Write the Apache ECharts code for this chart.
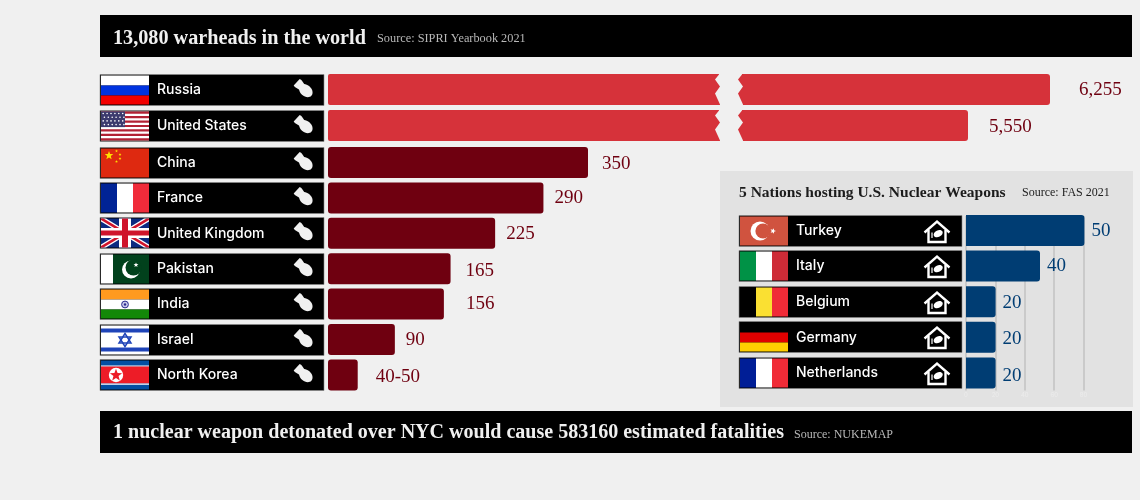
<!DOCTYPE html>
<html><head><meta charset="utf-8">
<style>html,body{margin:0;padding:0;background:#f0f0f0}#c{width:1140px;height:500px}</style>
<script src="https://cdn.jsdelivr.net/npm/echarts@6/dist/echarts.min.js"></script>
</head><body><div id="c"></div>
<script>
// ---------- data ----------
const brokenCountries = ['Russia', 'United States'];
const brokenValues = [6255, 5550];
const brokenLabels = ['6,255', '5,550'];
const countries = ['China', 'France', 'United Kingdom', 'Pakistan', 'India', 'Israel', 'North Korea'];
const warheads = [350, 290, 225, 165, 156, 90, 40];
const warheadLabels = ['350', '290', '225', '165', '156', '90', '40-50'];
const hostCountries = ['Turkey', 'Italy', 'Belgium', 'Germany', 'Netherlands'];
const hostBars = [80, 50, 20, 20, 20];
const hostLabels = ['50', '40', '20', '20', '20'];
const hostTicks = [0, 20, 40, 60, 80];

// ---------- look ----------
const SERIF = '"Liberation Serif", serif';
const SANS = 'Inter, Lato, sans-serif';
const RED = '#d6323a', DARK = '#6f0010', BLUE = '#003d73', BG = '#f0f0f0';
const gapsBroken = [29, 21], shiftBroken = [1, 2];
const gapsMain = [14, 11, 11, 15, 22, 11, 18], shiftMain = [2, 0, 1, 2, 0, 1, 2];
const gapsHost = [7, 7, 7, 7, 7], shiftHost = [1, 0, 1, 2, 3];

// ---------- drawing helpers ----------
const R = (x, y, w, h, fill) => ({ type: 'rect', shape: { x, y, width: w, height: h }, style: { fill } });
const P = (points, fill) => ({ type: 'polygon', shape: { points }, style: { fill } });
const C = (cx, cy, r, fill) => ({ type: 'circle', shape: { cx, cy, r }, style: { fill } });
function star(cx, cy, r, fill, rot) {
  const pts = [];
  for (let i = 0; i < 10; i++) {
    const a = -Math.PI / 2 + (rot || 0) + i * Math.PI / 5, q = i % 2 ? r * 0.42 : r;
    pts.push([cx + q * Math.cos(a), cy + q * Math.sin(a)]);
  }
  return P(pts, fill);
}
const W = 48, H = 29;
function vertical(a, b, c) { return [R(0, 0, 16, H, a), R(16, 0, 16, H, b), R(32, 0, 16, H, c)]; }
function horizontal(a, b, c) { return [R(0, 0, W, 10, a), R(0, 10, W, 10, b), R(0, 20, W, 9, c)]; }
const flags = {
  'Russia': () => horizontal('#ffffff', '#0033e0', '#f20000'),
  'United States': () => {
    const o = [R(0, 0, W, H, '#ffffff')];
    for (let i = 0; i < 7; i++) o.push(R(0, i * 4.46, W, 2.23, '#b22234'));
    o.push(R(0, 0, 24, 15.6, '#3c3b6e'));
    for (let r = 0; r < 4; r++) for (let k = 0; k < 6; k++) o.push(C(2.2 + k * 3.9 + (r % 2) * 1.2, 2 + r * 3.7, 0.8, '#ffffff'));
    return o;
  },
  'China': () => [R(0, 0, W, H, '#de2910'), star(8, 7, 4.5, '#ffde00'), star(15.5, 2.5, 1.5, '#ffde00'), star(19, 6, 1.5, '#ffde00'), star(19, 10, 1.5, '#ffde00'), star(15.5, 13, 1.5, '#ffde00')],
  'France': () => vertical('#002395', '#ffffff', '#f02b3a'),
  'United Kingdom': () => [
    R(0, 0, W, H, '#0b2a80'),
    P([[0, 0], [5, 0], [48, 26], [48, 29], [43, 29], [0, 3]], '#ffffff'),
    P([[48, 0], [43, 0], [0, 26], [0, 29], [5, 29], [48, 3]], '#ffffff'),
    P([[0, 0], [2.5, 0], [48, 27.5], [48, 29], [45.5, 29], [0, 1.5]], '#cf142b'),
    P([[48, 0], [45.5, 0], [0, 27.5], [0, 29], [2.5, 29], [48, 1.5]], '#cf142b'),
    R(18, 0, 12, H, '#ffffff'), R(0, 9.5, W, 10, '#ffffff'), R(21, 0, 6, H, '#cf142b'), R(0, 12, W, 5, '#cf142b')
  ],
  'Pakistan': () => [R(0, 0, 12, H, '#ffffff'), R(12, 0, 36, H, '#01411c'), C(30, 15, 9, '#ffffff'), C(32.5, 13, 8, '#01411c'), star(35, 10.5, 2.6, '#ffffff')],
  'India': () => [...horizontal('#ff9a1f', '#ffffff', '#138808'), { type: 'circle', shape: { cx: 24, cy: 15, r: 3.4 }, style: { fill: '#c9c9ea', stroke: '#2a2a90', lineWidth: 1 } }, C(24, 15, 1.2, '#2a2a90')],
  'Israel': () => [
    R(0, 0, W, H, '#ffffff'), R(0, 3, W, 4, '#1f44b8'), R(0, 22, W, 4, '#1f44b8'),
    { type: 'polygon', shape: { points: [[24, 8], [30, 17.5], [18, 17.5]] }, style: { fill: null, stroke: '#1f44b8', lineWidth: 1.5 } },
    { type: 'polygon', shape: { points: [[24, 21], [30, 11.5], [18, 11.5]] }, style: { fill: null, stroke: '#1f44b8', lineWidth: 1.5 } }
  ],
  'North Korea': () => [R(0, 0, W, H, '#024fa2'), R(0, 5, W, 1.2, '#ffffff'), R(0, 6, W, 17, '#ed1c27'), R(0, 23, W, 1.2, '#ffffff'), C(15, 14.5, 7.2, '#ffffff'), star(15, 14.7, 6.4, '#ed1c27')],
  'Turkey': () => [R(0, 0, W, H, '#d0533f'), C(20, 14.5, 9.5, '#ffffff'), C(23, 14.5, 7.6, '#d0533f'), star(33, 14.5, 3, '#ffffff', 0.3)],
  'Italy': () => vertical('#009246', '#ffffff', '#ce2b37'),
  'Belgium': () => vertical('#000000', '#fae032', '#f02b37'),
  'Germany': () => horizontal('#000000', '#e00000', '#ffce00'),
  'Netherlands': () => vertical('#001e96', '#ffffff', '#f02b37')
};
function bomb(x, y) {
  return { type: 'group', x, y: y - 1, rotation: -Math.PI / 4.2, children: [
    { type: 'ellipse', shape: { cx: 2.5, cy: 0, rx: 7.6, ry: 5.6 }, style: { fill: BG } },
    P([[-10, -4.4], [-8, -4.8], [-2, -3.5], [-2, 3.5], [-8, 4.8], [-10, 4.4]], BG)
  ] };
}
function house(x, y) {
  const s = { fill: null, stroke: '#ffffff', lineWidth: 2.4 };
  return { type: 'group', x, y, children: [
    { type: 'polyline', shape: { points: [[-12.5, 1.5], [0, -9.5], [12.5, 1.5]] }, style: s },
    { type: 'polyline', shape: { points: [[-8.5, -1], [-8.5, 11], [8.5, 11], [8.5, -1]] }, style: s },
    { type: 'group', x: 1.2, y: 2.6, rotation: Math.PI / 7, children: [
      { type: 'ellipse', shape: { cx: 0, cy: 0, rx: 4.8, ry: 3.3 }, style: { fill: '#ffffff' } }
    ] },
    { type: 'line', shape: { x1: -5, y1: 1.5, x2: -5, y2: 7 }, style: { stroke: '#ffffff', lineWidth: 1.2 } }
  ] };
}
// name plate drawn left of a bar grid; sits on the same category axis
function plates(grid, names, back, iconFn, iconOffset) {
  return {
    type: 'custom', xAxisIndex: grid, yAxisIndex: grid, z: 3, silent: true,
    data: names.map((n, i) => [0, i]), encode: { x: 0, y: 1 },
    renderItem(params, api) {
      const p = api.coord([0, params.dataIndex]);
      const x = p[0] - back, y = Math.round(p[1]);
      const name = names[params.dataIndex];
      return { type: 'group', children: [
        { type: 'rect', shape: { x, y: y - 15.5, width: back - 4, height: 31 }, style: { fill: '#000', stroke: '#8a8a8a', lineWidth: 0.6 } },
        { type: 'group', x: x + 1, y: y - 14.5, children: flags[name]() },
        iconFn(p[0] + iconOffset, y)
      ] };
    }
  };
}
// the white zig-zag cut through the two broken bars
function breakMask(grid, names, endValue) {
  return {
    type: 'custom', xAxisIndex: grid, yAxisIndex: grid, z: 6, silent: true,
    data: names.map((n, i) => [endValue, i]), encode: { x: 0, y: 1 },
    renderItem(params, api) {
      const p = api.coord([endValue, params.dataIndex]);
      const x = p[0], y = p[1] - 17;
      return P([
        [x - 2, y], [x - 2, y + 2], [x - 6, y + 7], [x - 1, y + 14], [x - 6, y + 21], [x - 1, y + 32], [x - 1, y + 34],
        [x + 22, y + 34], [x + 22, y + 32], [x + 17, y + 21], [x + 22, y + 14], [x + 17, y + 7], [x + 21, y + 2], [x + 21, y]
      ], BG);
    }
  };
}
function items(values, labels, gaps, shifts, color) {
  return values.map((v, i) => ({ value: v, label: { show: true, position: 'right', distance: gaps[i], offset: [0, shifts[i]], formatter: labels[i], color, fontFamily: SERIF, fontSize: 19 } }));
}
function yAxis(grid, names, margin) {
  return { type: 'category', gridIndex: grid, data: names, inverse: true, z: 10,
    axisLine: { show: false }, axisTick: { show: false }, splitLine: { show: false },
    axisLabel: { show: margin > 0, align: 'left', margin, color: '#fff', fontFamily: SANS, fontSize: 14, fontWeight: 500, padding: [3, 0, 0, 0] } };
}
const hiddenX = (grid, min, max) => ({ type: 'value', gridIndex: grid, min, max, show: false });
const PX = 260 / 350;            // main scale
const titles = (text, left, top, size, color, weight) => ({ text, left, top, padding: 0, textStyle: { color, fontSize: size, fontWeight: weight, fontFamily: SERIF } });

const option = {
  animation: false,
  backgroundColor: BG,
  title: [
    titles('13,080 warheads in the world', 113, 28.5, 20.2, '#f0f0f0', 'bold'),
    titles('Source: SIPRI Yearbook 2021', 377, 33, 12.3, '#b8b8b8', 'normal'),
    titles('1 nuclear weapon detonated over NYC would cause 583160 estimated fatalities', 113, 423, 20.05, '#f0f0f0', 'bold'),
    titles('Source: NUKEMAP', 794, 429, 12, '#b8b8b8', 'normal'),
    titles('5 Nations hosting U.S. Nuclear Weapons', 739, 185, 15.5, '#1c1c1c', 'bold'),
    titles('Source: FAS 2021', 1022, 187, 12, '#1c1c1c', 'normal')
  ],
  graphic: [
    { type: 'rect', z: -10, shape: { x: 100, y: 15, width: 1032, height: 42 }, style: { fill: '#000' } },
    { type: 'rect', z: -10, shape: { x: 100, y: 411, width: 1032, height: 42 }, style: { fill: '#000' } },
    { type: 'rect', z: -10, shape: { x: 720, y: 171, width: 413, height: 236 }, style: { fill: '#e2e2e2' } }
  ],
  grid: [
    { left: 328, width: 393, top: 71.5, height: 72 },       // broken rows, left piece
    { left: 738, width: 394, top: 71.5, height: 72 },       // broken rows, right piece
    { left: 328, width: 393, top: 144.8, height: 247.8 },   // main rows
    { left: 966, width: 118.4, top: 212.7, height: 178 },   // inset bars
    { left: 966, width: 117.6, top: 216, height: 174.5 }    // inset reference lines
  ],
  xAxis: [
    hiddenX(0, 0, 393 / PX),
    hiddenX(1, 3572.5, 6960),
    hiddenX(2, 0, 393 / PX),
    hiddenX(3, 0, 80),
    { type: 'value', gridIndex: 4, min: 0, max: 80, interval: 20,
      axisLine: { show: false }, axisTick: { show: false },
      splitLine: { show: true, lineStyle: { color: '#c2c2c2', width: 1.5 } },
      axisLabel: { show: true, margin: 2, fontSize: 6, color: '#ececec', fontFamily: SANS, customValues: hostTicks } }
  ],
  yAxis: [
    yAxis(0, brokenCountries, 171),
    yAxis(1, brokenCountries, 0),
    yAxis(2, countries, 171),
    yAxis(3, hostCountries, 170),
    { type: 'category', gridIndex: 4, data: hostCountries, show: false }
  ],
  series: [
    { type: 'bar', xAxisIndex: 0, yAxisIndex: 0, barWidth: 31, data: brokenValues, itemStyle: { color: RED, borderRadius: [2, 0, 0, 2] }, z: 2 },
    { type: 'bar', xAxisIndex: 1, yAxisIndex: 1, barWidth: 31, data: items(brokenValues, brokenLabels, gapsBroken, shiftBroken, DARK), itemStyle: { color: RED, borderRadius: [0, 3, 3, 0] }, z: 2 },
    { type: 'bar', xAxisIndex: 2, yAxisIndex: 2, barWidth: 31, data: items(warheads, warheadLabels, gapsMain, shiftMain, DARK), itemStyle: { color: DARK, borderRadius: 3 }, z: 2 },
    { type: 'bar', xAxisIndex: 3, yAxisIndex: 3, barWidth: 31, data: items(hostBars, hostLabels, gapsHost, shiftHost, BLUE), itemStyle: { color: BLUE, borderRadius: [0, 3, 3, 0] }, z: 2 },
    plates(0, brokenCountries, 228, bomb, -24),
    plates(2, countries, 228, bomb, -24),
    plates(3, hostCountries, 227, house, -29),
    breakMask(0, brokenCountries, 393 / PX)
  ]
};
echarts.init(document.getElementById('c'), null, { renderer: 'canvas' }).setOption(option);
</script></body></html>
